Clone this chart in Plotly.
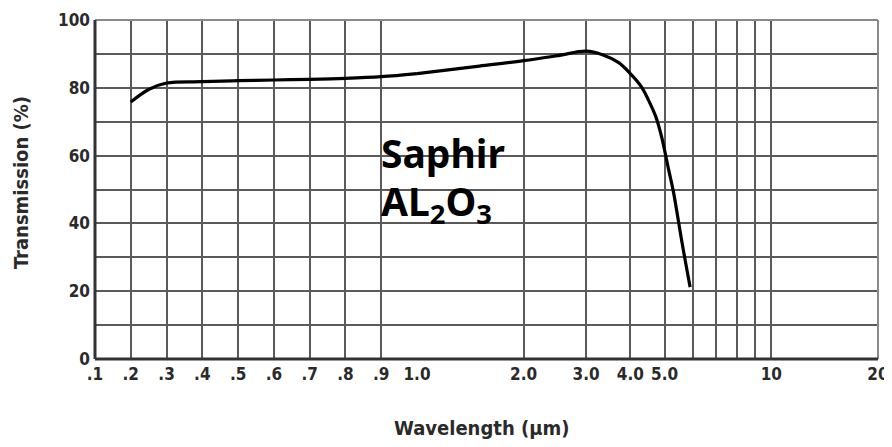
import plotly.graph_objects as go
import math

# --- data -------------------------------------------------------------
wl_short = [0.2, 0.25, 0.3, 0.4, 0.5, 0.6, 0.7, 0.8, 0.9, 1.0]
tr_short = [75.8, 79.5, 81.4, 81.8, 82.1, 82.3, 82.5, 82.8, 83.3, 84.2]
wl_long = [1.0, 1.5, 2.0, 2.5, 3.0, 3.35, 3.7, 4.0, 4.3, 4.5, 4.72, 4.9, 5.12, 5.3, 5.6, 5.9]
tr_long = [84.2, 86.4, 88.0, 89.5, 90.8, 89.7, 87.5, 84.2, 80.3, 76.4, 71.5, 65.6, 56.3, 49.0, 34.2, 21.2]

lin_ticks = [0.1, 0.2, 0.3, 0.4, 0.5, 0.6, 0.7, 0.8, 0.9, 1.0]
lin_labels = [".1", ".2", ".3", ".4", ".5", ".6", ".7", ".8", ".9", "1.0"]
log_ticks = [2, 3, 4, 5, 6, 7, 8, 9, 10, 20]
log_labels = ["2.0", "3.0", "4.0", "5.0", " ", " ", " ", " ", "10", "20"]
y_ticks = [0, 10, 20, 30, 40, 50, 60, 70, 80, 90, 100]
y_labels = ["0", " ", "20", " ", "40", " ", "60", " ", "80", " ", "100"]

# --- style ------------------------------------------------------------
NARROW = "Liberation Sans Narrow, DejaVu Sans Condensed, Arial Narrow, sans-serif"
tick_font = dict(family=NARROW, size=17, color="#2a2a2a", weight="bold")
GRID = "#5a5a5a"
SPLIT = 0.4112

# page body has an 8px default margin; size the figure to compensate
OFF = 8
L, R, T, B = 95, 878, 20, 359  # plot area in window pixels
W, H = 892 - OFF, 447 - OFF

def px(x):
    return (x - L) / (R - L)

def py(y):
    return (B - y) / (B - T)

fig = go.Figure()
line_style = dict(color="#000000", width=3.2, shape="spline", smoothing=1.0)
fig.add_trace(go.Scatter(x=wl_short, y=tr_short, mode="lines", line=line_style,
                         xaxis="x", yaxis="y", showlegend=False, hoverinfo="skip"))
fig.add_trace(go.Scatter(x=wl_long, y=tr_long, mode="lines", line=line_style,
                         xaxis="x2", yaxis="y", showlegend=False, hoverinfo="skip"))

fig.update_layout(
    width=W, height=H,
    margin=dict(l=L - OFF, r=892 - R, t=T - OFF, b=447 - B, autoexpand=False),
    paper_bgcolor="white", plot_bgcolor="white",
    xaxis=dict(domain=[0, SPLIT], range=[0.1, 1.0], type="linear",
               tickvals=lin_ticks, ticktext=lin_labels, tickfont=tick_font,
               showgrid=True, gridcolor=GRID, gridwidth=1.5, zeroline=False,
               showline=False, ticks="", anchor="y", ticklabelstandoff=3,
               automargin=False),
    xaxis2=dict(domain=[SPLIT, 1], type="log", range=[0, math.log10(20)],
                tickvals=log_ticks, ticktext=log_labels, tickfont=tick_font,
                showgrid=True, gridcolor=GRID, gridwidth=1.5, zeroline=False,
                showline=False, ticks="", anchor="y", ticklabelstandoff=3,
                automargin=False),
    yaxis=dict(range=[0, 100], tickvals=y_ticks, ticktext=y_labels,
               tickfont=tick_font, showgrid=True, gridcolor=GRID, gridwidth=1.5,
               zeroline=False, showline=False, ticks="", ticklabelstandoff=4,
               automargin=False),
    shapes=[
        dict(type="line", xref="paper", yref="paper", x0=0, x1=1, y0=1, y1=1,
             line=dict(color="#8a8a8a", width=2)),
        dict(type="line", xref="paper", yref="paper", x0=1, x1=1, y0=0, y1=1,
             line=dict(color="#8a8a8a", width=2)),
        dict(type="line", xref="paper", yref="paper", x0=0, x1=0, y0=0, y1=1,
             line=dict(color="#333333", width=3)),
        dict(type="line", xref="paper", yref="paper", x0=0, x1=1, y0=0, y1=0,
             line=dict(color="#333333", width=3)),
    ],
    annotations=[
        dict(text="Wavelength (µm)", xref="paper", yref="paper",
             x=px(481), y=py(428), xanchor="center", yanchor="middle",
             showarrow=False, font=dict(family=NARROW, size=20, color="#2a2a2a", weight="bold")),
        dict(text="Transmission (%)", xref="paper", yref="paper", textangle=-90,
             x=px(21), y=py(183), xanchor="center", yanchor="middle",
             showarrow=False, font=dict(family=NARROW, size=20, color="#2a2a2a", weight="bold")),
        dict(text="Saphir", xref="paper", yref="paper",
             x=px(379), y=py(124), xanchor="left", yanchor="top",
             align="left", showarrow=False,
             font=dict(family="Noto Sans", size=39, color="#000000", weight="bold")),
        dict(text="AL<sub>2</sub>O<sub>3</sub>", xref="paper", yref="paper",
             x=px(379), y=py(172), xanchor="left", yanchor="top",
             align="left", showarrow=False,
             font=dict(family="Noto Sans", size=39, color="#000000", weight="bold")),
    ],
)

fig.write_html("out.html")
